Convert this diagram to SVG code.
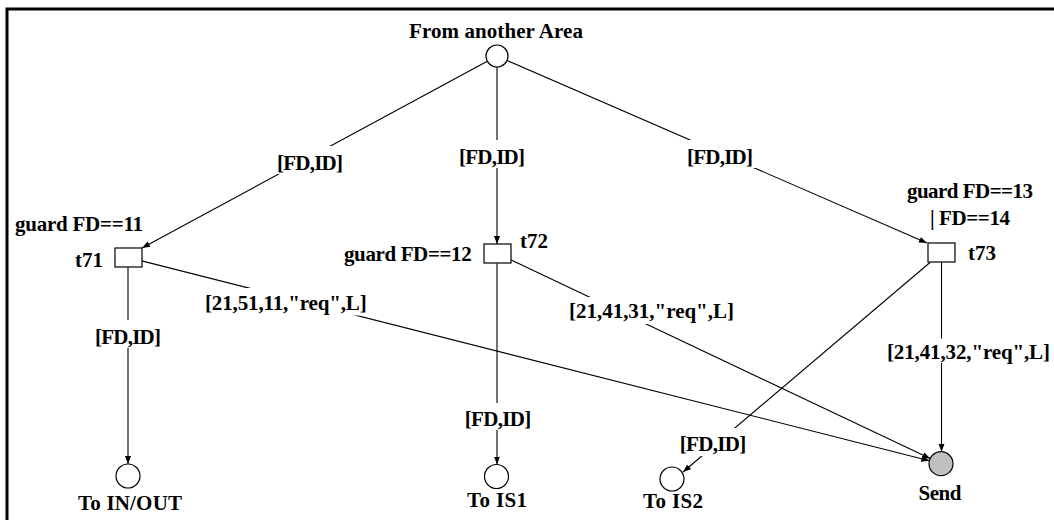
<svg xmlns="http://www.w3.org/2000/svg" width="1054" height="520" viewBox="0 0 1054 520">
<style>
text{font-family:"Liberation Serif","Times New Roman",serif;font-weight:bold;font-size:21px;fill:#000}
.m{text-anchor:middle}
.e{text-anchor:end}
.arc{stroke:#000;stroke-width:1.1;fill:none}
.place{fill:#fff;stroke:#000;stroke-width:1.2}
.tr{fill:#fff;stroke:#000;stroke-width:1.2}
.bg{fill:#fff}
</style>
<defs>
<marker id="arr" viewBox="0 0 10 10" refX="10" refY="5" markerWidth="8" markerHeight="8" markerUnits="userSpaceOnUse" orient="auto"><path d="M0,1.2 L10,5 L0,8.8 z" fill="#000"/></marker>
</defs>
<rect width="1054" height="520" fill="#fff"/>
<path d="M7,520 L7,9 L1054,9" fill="none" stroke="#000" stroke-width="3"/>
<g id="connectors">
<line class="arc" x1="487.3" y1="61.2" x2="142" y2="248" marker-end="url(#arr)"/>
<line class="arc" x1="497" y1="67" x2="497" y2="244" marker-end="url(#arr)"/>
<line class="arc" x1="507.1" y1="60.4" x2="927" y2="243" marker-end="url(#arr)"/>
<line class="arc" x1="128" y1="267" x2="128" y2="464" marker-end="url(#arr)"/>
<line class="arc" x1="497" y1="263.5" x2="497" y2="464.5" marker-end="url(#arr)"/>
<line class="arc" x1="941.5" y1="262" x2="941.5" y2="451.7" marker-end="url(#arr)"/>
<line class="arc" x1="141.7" y1="260.9" x2="929.4" y2="460.7" marker-end="url(#arr)"/>
<line class="arc" x1="510.7" y1="259.8" x2="930.2" y2="458.6" marker-end="url(#arr)"/>
<line class="arc" x1="930" y1="262.5" x2="683" y2="472" marker-end="url(#arr)"/>
<rect class="bg" x="274" y="146" width="72" height="28"/>
<text x="310" y="170" class="m" textLength="66">[FD,ID]</text>
<rect class="bg" x="456" y="140" width="72" height="28"/>
<text x="492" y="164" class="m" textLength="66">[FD,ID]</text>
<rect class="bg" x="684" y="140" width="72" height="28"/>
<text x="720" y="164" class="m" textLength="66">[FD,ID]</text>
<rect class="bg" x="202" y="288" width="168" height="27.5"/>
<text x="205" y="309.5" textLength="161.7">[21,51,11,"req",L]</text>
<rect class="bg" x="566" y="297" width="171" height="27"/>
<text x="569" y="318" textLength="165">[21,41,31,"req",L]</text>
<rect class="bg" x="884" y="338.5" width="168" height="24.5"/>
<text x="887" y="358.5" textLength="163">[21,41,32,"req",L]</text>
<rect class="bg" x="93" y="320" width="70" height="28"/>
<text x="128" y="344" class="m" textLength="66">[FD,ID]</text>
<rect class="bg" x="462" y="403" width="72" height="27"/>
<text x="498" y="426" class="m" textLength="66.7">[FD,ID]</text>
<rect class="bg" x="677" y="428" width="73" height="28"/>
<text x="713" y="451" class="m" textLength="66.7">[FD,ID]</text>
</g>
<g id="from-area">
<text x="496" y="38" class="m" textLength="174">From another Area</text>
<circle class="place" cx="497" cy="56" r="11"/>
</g>
<g id="t71">
<rect class="tr" x="115" y="248" width="27" height="19"/>
<text x="103" y="266.5" class="e">t71</text>
<text x="15" y="230.5" textLength="128">guard FD==11</text>
</g>
<g id="t72">
<rect class="tr" x="484" y="244" width="27" height="19"/>
<text x="520" y="248">t72</text>
<text x="344" y="261" textLength="127.7">guard FD==12</text>
</g>
<g id="t73">
<rect class="tr" x="928" y="243" width="27" height="19"/>
<text x="968" y="260">t73</text>
<text x="907" y="198" textLength="126">guard FD==13</text>
<text x="930" y="225" textLength="80">| FD==14</text>
</g>
<g id="to-inout">
<circle class="place" cx="128" cy="476" r="12"/>
<text x="130" y="510" class="m" textLength="104">To IN/OUT</text>
</g>
<g id="to-is1">
<circle class="place" cx="496.5" cy="476.5" r="12"/>
<text x="497" y="507" class="m" textLength="60">To IS1</text>
</g>
<g id="to-is2">
<circle class="place" cx="672" cy="479" r="12"/>
<text x="673" y="508" class="m" textLength="60">To IS2</text>
</g>
<g id="send">
<circle cx="941" cy="463.7" r="12" fill="#c0c0c0" stroke="#000" stroke-width="1.2"/>
<text x="940" y="500" class="m" textLength="43">Send</text>
</g>
</svg>
